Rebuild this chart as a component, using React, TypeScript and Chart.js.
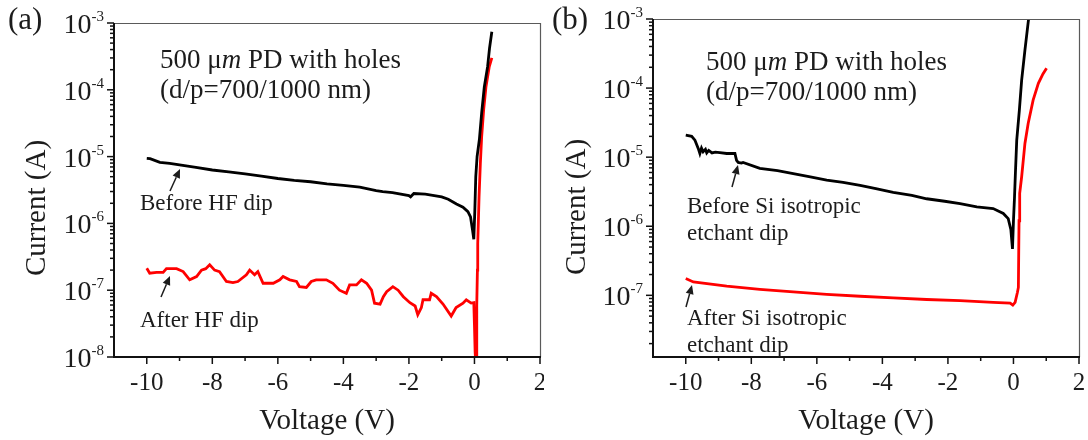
import React, { useEffect, useRef } from 'react';
import { Chart, registerables } from 'chart.js';
Chart.register(...registerables);

const SERIF = '"Liberation Serif", "DejaVu Serif", serif';
const INK = '#1c1c1c';

// x-axis tick labels
const xTickLabels = [-10, -8, -6, -4, -2, 0, 2];

// ---------- Panel (a): before / after HF dip ----------
const aBeforeV = [-10, -9.9, -9.6, -9.3, -9.0, -8.5, -8.0, -7.5, -7.0, -6.5, -6.0, -5.5, -5.0, -4.5, -4.0, -3.5, -3.0, -2.8, -2.5, -2.0, -1.95, -1.85, -1.5, -1.0, -0.8, -0.55, -0.35, -0.2, -0.12, -0.06, -0.02, 0.01, 0.04, 0.08, 0.15, 0.22, 0.3, 0.4, 0.46, 0.53];
const aBeforeI = [9.4e-6, 9.3e-6, 8.2e-6, 7.9e-6, 7.5e-6, 6.9e-6, 6.3e-6, 5.9e-6, 5.5e-6, 5.1e-6, 4.7e-6, 4.4e-6, 4.2e-6, 3.9e-6, 3.7e-6, 3.5e-6, 3.1e-6, 3.0e-6, 2.9e-6, 2.6e-6, 2.5e-6, 2.8e-6, 2.75e-6, 2.5e-6, 2.3e-6, 1.95e-6, 1.75e-6, 1.5e-6, 1.25e-6, 8e-7, 5.8e-7, 1.5e-6, 5e-6, 1e-5, 1.8e-5, 4.5e-5, 1.1e-4, 2.2e-4, 4.2e-4, 7.4e-4];

const aAfterV = [-10.0, -9.91, -9.7, -9.5, -9.4, -9.09, -8.89, -8.69, -8.48, -8.33, -8.2, -8.08, -7.93, -7.78, -7.57, -7.37, -7.22, -6.96, -6.86, -6.71, -6.61, -6.45, -6.14, -5.94, -5.84, -5.64, -5.43, -5.34, -5.13, -4.98, -4.83, -4.52, -4.32, -4.12, -3.91, -3.81, -3.6, -3.45, -3.29, -3.14, -3.05, -2.88, -2.78, -2.68, -2.49, -2.33, -2.17, -1.97, -1.81, -1.73, -1.62, -1.57, -1.37, -1.32, -1.16, -0.96, -0.71, -0.56, -0.35, -0.25, -0.1, -0.02, 0.0, 0.02, 0.04, 0.06, 0.07, 0.09, 0.1, 0.14, 0.18, 0.22, 0.28, 0.35, 0.45, 0.53];
const aAfterI = [2.13e-7, 1.8e-7, 1.85e-7, 1.85e-7, 2.1e-7, 2.1e-7, 1.9e-7, 1.43e-7, 1.6e-7, 2.0e-7, 2.1e-7, 2.4e-7, 2.0e-7, 1.9e-7, 1.35e-7, 1.3e-7, 1.35e-7, 1.7e-7, 2.0e-7, 1.7e-7, 1.9e-7, 1.27e-7, 1.27e-7, 1.43e-7, 1.6e-7, 1.43e-7, 1.35e-7, 1.13e-7, 1.1e-7, 1.35e-7, 1.43e-7, 1.43e-7, 1.27e-7, 1.0e-7, 9e-8, 1.2e-7, 1.2e-7, 1.43e-7, 1.27e-7, 1.0e-7, 6.4e-8, 6.2e-8, 8.0e-8, 9.5e-8, 1.13e-7, 1.0e-7, 8e-8, 6.5e-8, 5.8e-8, 4.3e-8, 5.5e-8, 7.2e-8, 7.2e-8, 9e-8, 8e-8, 6.2e-8, 4.1e-8, 5.5e-8, 6.4e-8, 7.2e-8, 6.4e-8, 6.5e-8, 3e-8, 1.2e-8, 8e-9, 8e-9, 6e-8, 2e-7, 5e-7, 2.5e-6, 8e-6, 2e-5, 5e-5, 1.1e-4, 2.2e-4, 3e-4];

// ---------- Panel (b): before / after Si isotropic etchant dip ----------
const bBeforeV = [-10, -9.82, -9.72, -9.62, -9.57, -9.52, -9.47, -9.4, -9.36, -9.3, -9.2, -9.1, -8.96, -8.75, -8.5, -8.45, -8.4, -8.3, -8.25, -7.74, -7.2, -6.72, -6.2, -5.7, -5.2, -4.68, -4.2, -3.67, -3.1, -2.65, -2.1, -1.63, -1.12, -0.62, -0.31, -0.16, -0.08, -0.03, 0.0, 0.03, 0.06, 0.1, 0.18, 0.25, 0.35, 0.45, 0.5];
const bBeforeI = [2.08e-5, 2.0e-5, 1.76e-5, 1.34e-5, 1.13e-5, 1.35e-5, 1.2e-5, 1.3e-5, 1.15e-5, 1.25e-5, 1.15e-5, 1.18e-5, 1.16e-5, 1.13e-5, 1.13e-5, 9e-6, 8.4e-6, 8.2e-6, 8.4e-6, 6.9e-6, 6.4e-6, 5.8e-6, 5.2e-6, 4.65e-6, 4.3e-6, 3.9e-6, 3.5e-6, 3.1e-6, 2.8e-6, 2.5e-6, 2.3e-6, 2.13e-6, 1.9e-6, 1.8e-6, 1.53e-6, 1.29e-6, 9e-7, 4.7e-7, 1.2e-6, 2.5e-6, 6e-6, 1.76e-5, 4.8e-5, 1.3e-4, 3.55e-4, 9e-4, 1.4e-3];

const bAfterV = [-10, -9.77, -8.75, -7.74, -6.72, -5.7, -4.68, -3.67, -2.65, -1.63, -0.62, -0.1, -0.02, 0.05, 0.12, 0.15, 0.17, 0.19, 0.25, 0.35, 0.45, 0.6, 0.76, 0.9, 1.01];
const bAfterI = [1.75e-7, 1.56e-7, 1.36e-7, 1.22e-7, 1.12e-7, 1.03e-7, 9.7e-8, 9.2e-8, 8.7e-8, 8.4e-8, 7.9e-8, 7.7e-8, 7.2e-8, 7.9e-8, 1.1e-7, 1.3e-7, 1.2e-6, 3e-6, 5.2e-6, 1.58e-5, 3.1e-5, 6.7e-5, 1.17e-4, 1.6e-4, 1.93e-4];

const pts = (v: number[], i: number[]) => v.map((x, k) => ({ x, y: i[k] }));

type Note = { text: string; x: number; y: number; size: number };
type Arrow = { x0: number; y0: number; x1: number; y1: number };
type Cfg = {
  tag: string;
  left: number; // y-axis width (chartArea.left)
  padRight: number;
  padTop: number;
  bottom: number; // chartArea.bottom
  yMin: number;
  yMax: number;
  yTitleX: number;
  yTitleY: number;
  headX: number;
  headY: number[];
  notes: Note[];
  arrows: Arrow[];
  series: { v: number[]; i: number[]; color: string }[];
};

function drawHeader(ctx: CanvasRenderingContext2D, x: number, y1: number, y2: number) {
  const size = 27;
  const normal = `${size}px ${SERIF}`;
  const italic = `italic ${size}px ${SERIF}`;
  ctx.textAlign = 'left';
  ctx.textBaseline = 'alphabetic';
  let cx = x;
  ctx.font = normal;
  ctx.fillText('500 μ', cx, y1);
  cx += ctx.measureText('500 μ').width;
  ctx.font = italic;
  ctx.fillText('m', cx, y1);
  cx += ctx.measureText('m').width;
  ctx.font = normal;
  ctx.fillText(' PD with holes', cx, y1);
  ctx.fillText('(d/p=700/1000 nm)', x, y2);
}

function drawArrow(ctx: CanvasRenderingContext2D, a: Arrow) {
  const dx = a.x1 - a.x0;
  const dy = a.y1 - a.y0;
  const len = Math.hypot(dx, dy);
  const ux = dx / len;
  const uy = dy / len;
  const hl = 9;
  const hw = 4;
  const bx = a.x1 - ux * hl;
  const by = a.y1 - uy * hl;
  ctx.strokeStyle = INK;
  ctx.lineWidth = 1.5;
  ctx.beginPath();
  ctx.moveTo(a.x0, a.y0);
  ctx.lineTo(bx, by);
  ctx.stroke();
  ctx.fillStyle = INK;
  ctx.beginPath();
  ctx.moveTo(a.x1, a.y1);
  ctx.lineTo(bx - uy * hw, by + ux * hw);
  ctx.lineTo(bx + uy * hw, by - ux * hw);
  ctx.closePath();
  ctx.fill();
}

function makeDecor(cfg: Cfg) {
  return {
    id: 'decor-' + cfg.tag,
    afterDraw(chart: any) {
      const { ctx, chartArea: a, scales } = chart;
      const xs = scales.x;
      const ys = scales.y;
      ctx.save();
      // frame: thin top & right
      ctx.strokeStyle = '#5a5a5a';
      ctx.lineWidth = 1.2;
      ctx.beginPath();
      ctx.moveTo(a.left, a.top + 0.5);
      ctx.lineTo(a.right + 0.5, a.top + 0.5);
      ctx.lineTo(a.right + 0.5, a.bottom);
      ctx.stroke();
      // thick left & bottom axes
      ctx.strokeStyle = '#111';
      ctx.lineWidth = 2;
      ctx.beginPath();
      ctx.moveTo(a.left, a.top);
      ctx.lineTo(a.left, a.bottom);
      ctx.lineTo(a.right + 1, a.bottom);
      ctx.stroke();

      // y ticks (major + minor), outward
      ctx.lineWidth = 1.5;
      const dLo = Math.floor(Math.log10(ys.min));
      const dHi = Math.ceil(Math.log10(ys.max));
      for (let d = dLo; d <= dHi; d++) {
        for (let k = 1; k <= 9; k++) {
          const v = k * Math.pow(10, d);
          if (v < ys.min * 0.999 || v > ys.max * 1.001) continue;
          const p = ys.getPixelForValue(v);
          const len = k === 1 ? 7 : 4;
          ctx.beginPath();
          ctx.moveTo(a.left, p);
          ctx.lineTo(a.left - len, p);
          ctx.stroke();
        }
      }
      // x ticks, outward
      for (let v = -10; v <= 2; v++) {
        const p = xs.getPixelForValue(v);
        const len = v % 2 === 0 ? 7 : 4;
        ctx.beginPath();
        ctx.moveTo(p, a.bottom);
        ctx.lineTo(p, a.bottom + len);
        ctx.stroke();
      }

      // y tick labels 10^n
      ctx.fillStyle = INK;
      for (let d = dLo; d <= dHi; d++) {
        const v = Math.pow(10, d);
        if (v < ys.min * 0.999 || v > ys.max * 1.001) continue;
        const p = ys.getPixelForValue(v);
        const exp = String(d);
        ctx.font = `15px ${SERIF}`;
        const ew = ctx.measureText(exp).width;
        const right = a.left - 10;
        ctx.textAlign = 'left';
        ctx.textBaseline = 'alphabetic';
        ctx.fillText(exp, right - ew, p - 2);
        ctx.font = `28px ${SERIF}`;
        ctx.textAlign = 'right';
        ctx.fillText('10', right - ew, p + 10);
      }

      // axis titles
      ctx.font = `29px ${SERIF}`;
      ctx.textAlign = 'center';
      ctx.textBaseline = 'middle';
      ctx.fillText('Voltage (V)', (a.left + a.right) / 2, 421);
      ctx.save();
      ctx.translate(cfg.yTitleX, cfg.yTitleY);
      ctx.rotate(-Math.PI / 2);
      ctx.fillText('Current (A)', 0, 0);
      ctx.restore();

      // panel tag
      ctx.font = `31px ${SERIF}`;
      ctx.textAlign = 'left';
      ctx.textBaseline = 'alphabetic';
      ctx.fillText(cfg.tag, 8, 29);

      // header annotation
      drawHeader(ctx, cfg.headX, cfg.headY[0], cfg.headY[1]);

      // curve annotations
      for (const n of cfg.notes) {
        ctx.font = `${n.size}px ${SERIF}`;
        ctx.textAlign = 'left';
        ctx.textBaseline = 'alphabetic';
        ctx.fillText(n.text, n.x, n.y);
      }
      for (const ar of cfg.arrows) drawArrow(ctx, ar);
      ctx.restore();
    },
  };
}

function Panel({ cfg, offset }: { cfg: Cfg; offset: number }) {
  const ref = useRef<HTMLCanvasElement>(null);
  useEffect(() => {
    const chart = new Chart(ref.current as HTMLCanvasElement, {
      type: 'line',
      data: {
        datasets: cfg.series.map((s) => ({
          data: pts(s.v, s.i),
          borderColor: s.color,
          backgroundColor: s.color,
          borderWidth: 2.8,
          pointRadius: 0,
          fill: false,
          tension: 0,
          clip: 0,
        })),
      },
      options: {
        responsive: false,
        animation: false,
        events: [],
        layout: { padding: { left: 0, right: cfg.padRight, top: cfg.padTop, bottom: 0 } },
        plugins: { legend: { display: false }, tooltip: { enabled: false } },
        scales: {
          x: {
            type: 'linear',
            min: -11,
            max: 2,
            afterFit: (s: any) => {
              s.height = 440 - cfg.bottom;
              s.paddingLeft = 0;
              s.paddingRight = 0;
            },
            grid: { display: false },
            border: { display: false },
            ticks: {
              stepSize: 1,
              autoSkip: false,
              maxRotation: 0,
              padding: 3,
              color: INK,
              font: { family: SERIF, size: 25 },
              callback: (v: any) => {
                const n = Math.round(Number(v));
                return xTickLabels.includes(n) ? String(n) : '';
              },
            },
          },
          y: {
            type: 'logarithmic',
            min: cfg.yMin,
            max: cfg.yMax,
            afterFit: (s: any) => {
              s.width = cfg.left;
              s.paddingTop = 0;
              s.paddingBottom = 0;
            },
            grid: { display: false },
            border: { display: false },
            ticks: { display: false },
          },
        },
      } as any,
      plugins: [makeDecor(cfg)],
    });
    return () => chart.destroy();
  }, []);
  return (
    <canvas
      ref={ref}
      width={544}
      height={440}
      style={{ position: 'absolute', left: offset, top: 0, width: 544, height: 440 }}
    />
  );
}

const cfgA: Cfg = {
  tag: '(a)',
  left: 114,
  padRight: 4,
  padTop: 23,
  bottom: 357,
  yMin: 1e-8,
  yMax: 1e-3,
  yTitleX: 37,
  yTitleY: 208,
  headX: 160,
  headY: [68, 98],
  notes: [
    { text: 'Before HF dip', x: 140, y: 210, size: 23 },
    { text: 'After HF dip', x: 140, y: 327, size: 23 },
  ],
  arrows: [
    { x0: 170, y0: 191, x1: 180, y1: 169 },
    { x0: 161, y0: 297, x1: 170, y1: 276 },
  ],
  series: [
    { v: aBeforeV, i: aBeforeI, color: '#000000' },
    { v: aAfterV, i: aAfterI, color: '#ff0000' },
  ],
};

const cfgB: Cfg = {
  tag: '(b)',
  left: 109,
  padRight: 9,
  padTop: 19,
  bottom: 357,
  yMin: 1.28e-8,
  yMax: 1e-3,
  yTitleX: 33,
  yTitleY: 207,
  headX: 162,
  headY: [70, 100],
  notes: [
    { text: 'Before Si isotropic', x: 143, y: 213, size: 23 },
    { text: 'etchant dip', x: 143, y: 240, size: 23 },
    { text: 'After Si isotropic', x: 143, y: 325, size: 23 },
    { text: 'etchant dip', x: 143, y: 352, size: 23 },
  ],
  arrows: [
    { x0: 188, y0: 187, x1: 194, y1: 165 },
    { x0: 142, y0: 307, x1: 148, y1: 285 },
  ],
  series: [
    { v: bBeforeV, i: bBeforeI, color: '#000000' },
    { v: bAfterV, i: bAfterI, color: '#ff0000' },
  ],
};

export default function App() {
  return (
    <div
      style={{
        position: 'fixed',
        left: 0,
        top: 0,
        width: 1088,
        height: 440,
        background: '#ffffff',
        overflow: 'hidden',
      }}
    >
      <Panel cfg={cfgA} offset={0} />
      <Panel cfg={cfgB} offset={544} />
    </div>
  );
}
